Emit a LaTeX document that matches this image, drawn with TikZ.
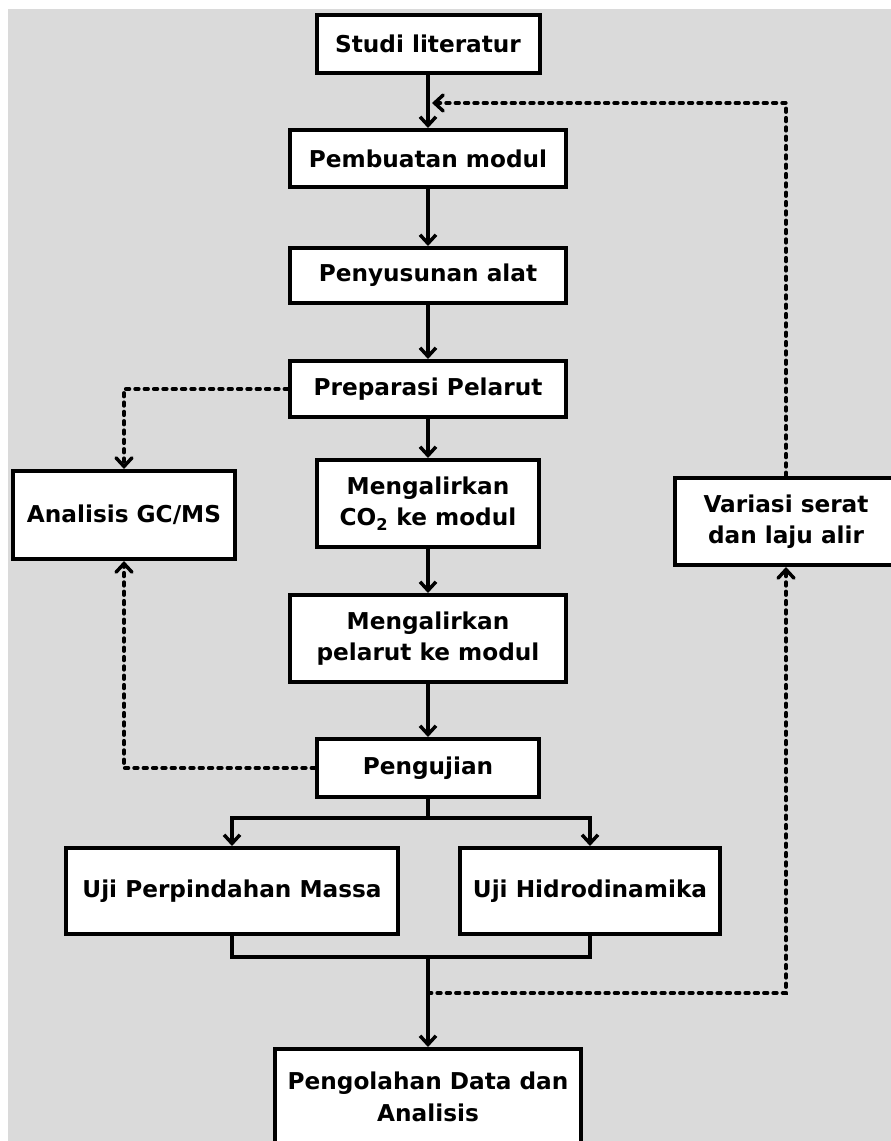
\documentclass[tikz,border=0pt]{standalone}
\usepackage{fontspec}
\setmainfont{DejaVu Sans}
\usetikzlibrary{arrows.meta}
\definecolor{bggray}{HTML}{DADADA}
\begin{document}
\begin{tikzpicture}[x=0.75pt,y=-0.75pt,
  box/.style={draw=black, line width=3pt, fill=white, align=center,
    font=\fontsize{17.4pt}{23.5pt}\selectfont\bfseries, inner sep=0pt},
  arr/.style={line width=2.9pt, -{Straight Barb[length=6.5pt,width=12pt,line width=2.6pt]}},
  ln/.style={line width=2.9pt},
  dsh/.style={line width=2.9pt, dash pattern=on 2.6pt off 4.4pt, line cap=round},
  darr/.style={dsh, -{Straight Barb[length=6.5pt,width=12pt,line width=2.6pt,line cap=round]}}
]
\useasboundingbox (0,0) rectangle (891,1141);
\fill[white] (0,0) rectangle (891,1141);
\fill[bggray] (8,9) rectangle (891,1141);

\node[box, minimum width=167.25pt, minimum height=43.5pt] (studi) at (428,44) {Studi literatur};
\node[box, minimum width=207pt, minimum height=42.75pt] (buat) at (428,158.5) {Pembuatan modul};
\node[box, minimum width=207pt, minimum height=41.25pt] (susun) at (428,275.5) {Penyusunan alat};
\node[box, minimum width=207pt, minimum height=42pt] (prep) at (428,389) {Preparasi Pelarut};
\node[box, minimum width=166.5pt, minimum height=65.25pt] (co2) at (428,503.5) {Mengalirkan\\CO\textsubscript{2} ke modul};
\node[box, minimum width=166.5pt, minimum height=66pt] (gcms) at (124,515) {Analisis GC/MS};
\node[box, minimum width=166.5pt, minimum height=65.25pt] (var) at (786,521.5) {Variasi serat\\dan laju alir};
\node[box, minimum width=207pt, minimum height=65.25pt] (pel) at (428,638.5) {Mengalirkan\\pelarut ke modul};
\node[box, minimum width=166.5pt, minimum height=43.5pt] (uji) at (428,768) {Pengujian};
\node[box, minimum width=249pt, minimum height=64.5pt] (ujipm) at (232,891) {Uji Perpindahan Massa};
\node[box, minimum width=195pt, minimum height=64.5pt] (ujih) at (590,891) {Uji Hidrodinamika};
\node[box, minimum width=229.5pt, minimum height=72pt] (olah) at (428,1097) {Pengolahan Data dan\\Analisis};

\coordinate (fb) at (432,103);
\coordinate (br) at (428,818);
\coordinate (mg) at (428,957);
\coordinate (dv) at (428,993);

\draw[arr] (studi.south) -- (buat.north);
\draw[arr] (buat.south) -- (susun.north);
\draw[arr] (susun.south) -- (prep.north);
\draw[arr] (prep.south) -- (co2.north);
\draw[arr] (co2.south) -- (pel.north);
\draw[arr] (pel.south) -- (uji.north);
\draw[ln] (uji.south) -- (br);
\draw[arr] (br) -| (ujipm.north);
\draw[arr] (br) -| (ujih.north);
\draw[ln] (ujipm.south) |- (mg);
\draw[ln] (ujih.south) |- (mg);
\draw[arr] (mg) -- (olah.north);

\draw[darr] (prep.west) -| (gcms.north);
\draw[darr] (uji.west) -| (gcms.south);
\draw[darr] (var.north) |- (fb);
\draw[darr] (dv) -| (var.south);
\end{tikzpicture}
\end{document}
